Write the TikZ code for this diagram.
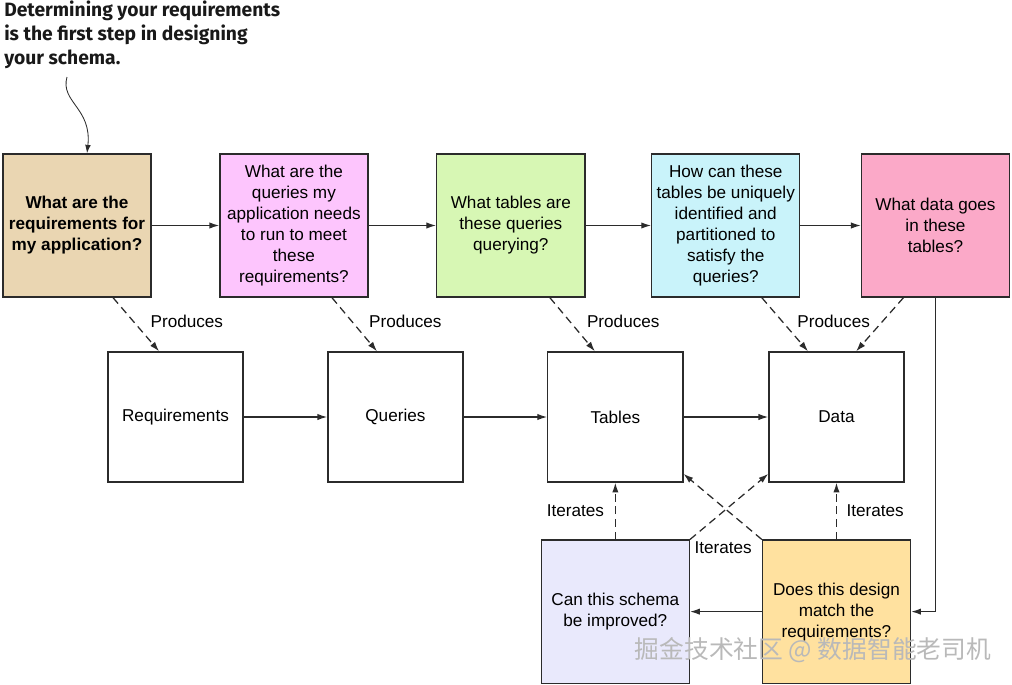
\documentclass[tikz,border=0pt]{standalone}
\usepackage{fontspec}
\setmainfont{Liberation Sans}
\newfontfamily\notefont{Fira Sans}
\newfontfamily\cjk{Noto Sans CJK SC}
\usetikzlibrary{
  arrows.meta,
  positioning
}

\definecolor{boxline}{HTML}{2B2B2B}
\definecolor{reqfill}{HTML}{EAD6B2}
\definecolor{qryfill}{HTML}{FDC5FD}
\definecolor{tblfill}{HTML}{D7F7B4}
\definecolor{keyfill}{HTML}{C9F3FA}
\definecolor{datfill}{HTML}{FBA9C8}
\definecolor{impfill}{HTML}{E9E9FC}
\definecolor{chkfill}{HTML}{FFE19F}

\begin{document}
\begin{tikzpicture}[
  x=0.025cm,
  y=-0.025cm,
  every node/.style={
    font=\fontsize{12.2}{14.9}\selectfont
  },
  ask/.style={
    draw=boxline,
    line width=0.9pt,
    align=center,
    minimum width=3.7cm,
    minimum height=3.575cm,
    inner sep=1pt
  },
  boldask/.style={
    ask,
    font=\fontsize{12.2}{14.9}\selectfont\bfseries
  },
  item/.style={
    draw=boxline,
    line width=0.9pt,
    align=center,
    minimum width=3.375cm,
    minimum height=3.25cm
  },
  note/.style={
    align=left,
    inner sep=0pt,
    text=black!90,
    font=\notefont\bfseries\fontsize{13.7}{16.8}\selectfont
  },
  arrow/.style={
    -{Latex[length=7pt,width=4.5pt]},
    line width=0.9pt,
    draw=boxline
  },
  dasharrow/.style={
    arrow,
    dash pattern=on 5.5pt off 3.5pt
  }
]

\useasboundingbox (0,0) rectangle (1012,684);

\node[note,anchor=north west] (note) at (4,1)
  {Determining your requirements\\is the first step in designing\\your schema.};

% questions
\node[boldask,fill=reqfill] (q1) at (77,225.5)
  {What are the\\requirements for\\my application?};
\node[ask,fill=qryfill,right=1.69cm of q1] (q2)
  {What are the\\queries my\\application needs\\to run to meet\\these\\requirements?};
\node[ask,fill=tblfill,right=1.69cm of q2] (q3)
  {What tables are\\these queries\\querying?};
\node[ask,fill=keyfill,right=1.64cm of q3] (q4)
  {How can these\\tables be uniquely\\identified and\\partitioned to\\satisfy the\\queries?};
\node[ask,fill=datfill,right=1.51cm of q4] (q5)
  {What data goes\\in these\\tables?};

% products
\node[item] (reqs) at (175.5,417) {Requirements};
\node[item,right=2.09cm of reqs] (queries) {Queries};
\node[item,right=2.09cm of queries] (tables) {Tables};
\node[item,right=2.12cm of tables] (data) {Data};

% review
\node[ask,fill=impfill,below=1.42cm of tables] (improve)
  {Can this schema\\be improved?};
\node[ask,fill=chkfill,below=1.42cm of data] (check)
  {Does this design\\match the\\requirements?};

\coordinate (curlstart) at (67,77);
\draw[-{Latex[length=6pt,width=4pt]},line width=0.6pt,draw=boxline]
  (curlstart) .. controls (60,102) and (92,108) .. ([xshift=0.25cm]q1.north);

\draw[arrow] (q1) -- (q2);
\draw[arrow] (q2) -- (q3);
\draw[arrow] (q3) -- (q4);
\draw[arrow] (q4) -- (q5);

\draw[arrow] (reqs) -- (queries);
\draw[arrow] (queries) -- (tables);
\draw[arrow] (tables) -- (data);

\draw[dasharrow] ([xshift=0.9cm]q1.south)
  -- node[pos=0.44,right=3mm]{Produces} ([xshift=-0.41cm]reqs.north);
\draw[dasharrow] ([xshift=0.95cm]q2.south)
  -- node[pos=0.44,right=3mm]{Produces} ([xshift=-0.46cm]queries.north);
\draw[dasharrow] ([xshift=0.975cm]q3.south)
  -- node[pos=0.44,right=3mm]{Produces} ([xshift=-0.51cm]tables.north);
\draw[dasharrow] ([xshift=0.9cm]q4.south)
  -- node[pos=0.44,right=2.5mm]{Produces} ([xshift=-0.71cm]data.north);
\draw[dasharrow] ([xshift=-0.8cm]q5.south) -- ([xshift=0.49cm]data.north);

\draw[arrow] (q5.south) |- (check.east);
\draw[arrow] (check) -- (improve);

\draw[dasharrow] (improve.north)
  -- node[pos=0.5,left=1.5mm]{Iterates} (tables.south);
\draw[dasharrow] (check.north)
  -- node[pos=0.5,right=1.2mm]{Iterates} (data.south);
\draw[dasharrow] (improve.north east) -- ([yshift=0.22cm]data.south west);
\draw[dasharrow] (check.north west)
  -- node[pos=0,anchor=north east,inner sep=1pt,xshift=-0.2cm]{Iterates}
  ([yshift=0.22cm]tables.south east);

\node[font=\cjk\fontsize{17.6}{20}\selectfont,text=gray!55,anchor=west] (mark)
  at (630,650) {掘金技术社区 @ 数据智能老司机};

\end{tikzpicture}
\end{document}
